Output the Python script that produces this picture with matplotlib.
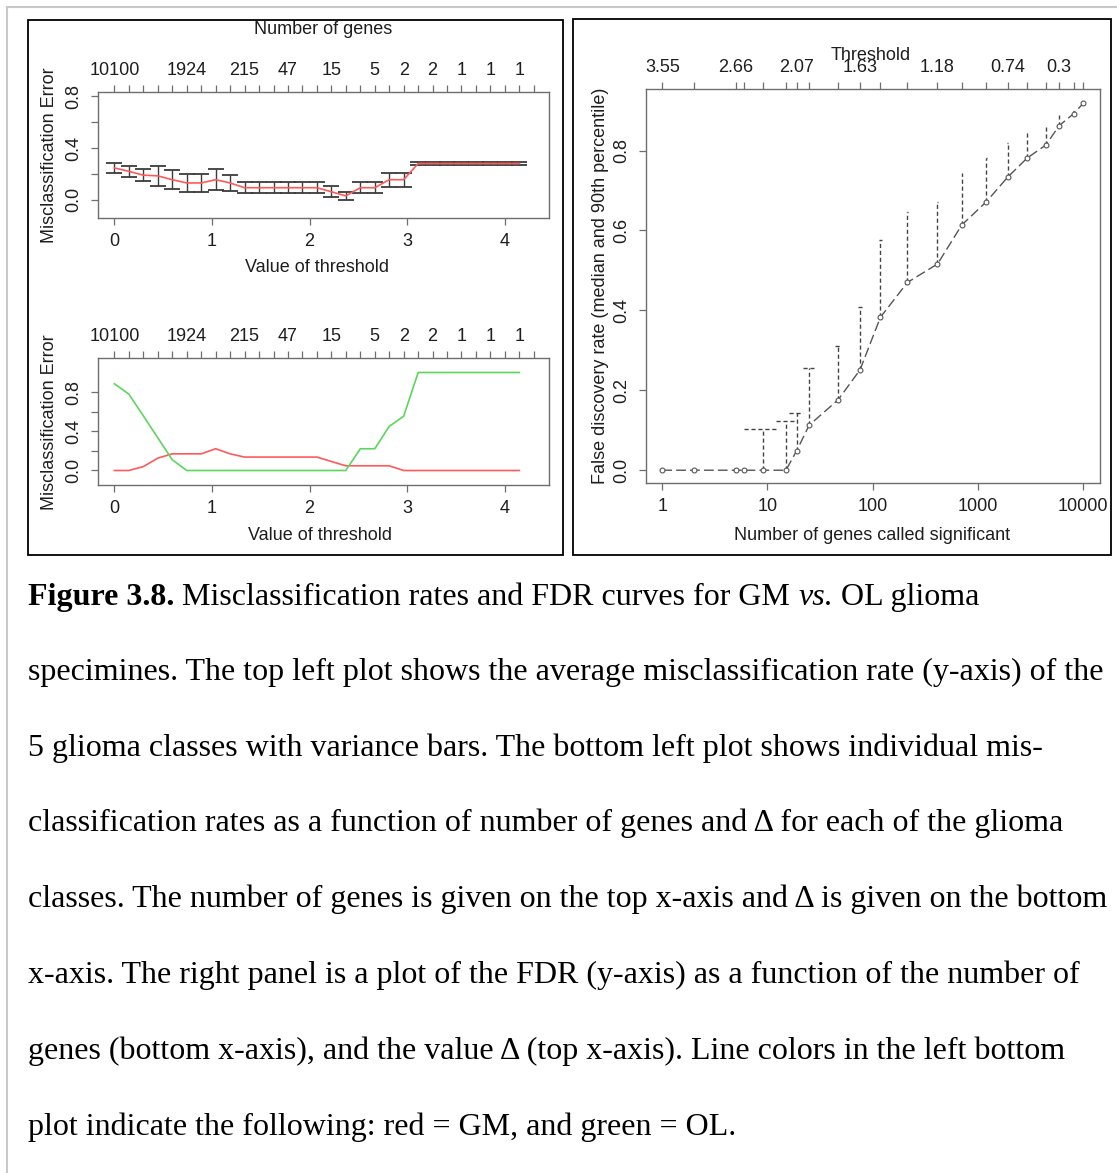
import numpy as np
import matplotlib
matplotlib.use("Agg")
import matplotlib.pyplot as plt
from matplotlib.patches import Rectangle
from matplotlib.lines import Line2D
from matplotlib.text import Annotation
from matplotlib.ticker import NullLocator

# ---- data ----
# pamr thresholds (one per top tick)
thresholds = [0.000, 0.148, 0.297, 0.445, 0.593, 0.741, 0.890, 1.038, 1.186, 1.334,
              1.483, 1.631, 1.779, 1.928, 2.076, 2.224, 2.372, 2.521, 2.669, 2.817,
              2.965, 3.114, 3.262, 3.410, 3.558, 3.707, 3.855, 4.003, 4.151, 4.300]
n_genes = [10100, 8165, 5950, 4467, 2953, 1924, 1212, 708, 415, 215,
           119, 76, 47, 25, 19, 15, 9, 6, 5, 2,
           2, 2, 2, 1, 1, 1, 1, 1, 1, 1]
gene_label_idx = [0, 5, 9, 12, 15, 18, 20, 22, 24, 26, 28]

# top left: mean misclassification error and error bar half-width
err_mean = [0.246, 0.220, 0.190, 0.185, 0.155, 0.130, 0.130, 0.155, 0.130, 0.093,
            0.093, 0.093, 0.093, 0.093, 0.093, 0.062, 0.030, 0.093, 0.093, 0.155,
            0.155, 0.280, 0.280, 0.280, 0.280, 0.280, 0.280, 0.280, 0.280]
err_se = [0.039, 0.041, 0.044, 0.078, 0.072, 0.070, 0.070, 0.080, 0.064, 0.044,
          0.044, 0.044, 0.044, 0.044, 0.044, 0.041, 0.029, 0.044, 0.044, 0.055,
          0.055, 0.015, 0.015, 0.015, 0.015, 0.015, 0.015, 0.015, 0.015]

# bottom left: per-class error
err_gm = [0.000, 0.000, 0.040, 0.126, 0.170, 0.170, 0.170, 0.222, 0.170, 0.137,
          0.137, 0.137, 0.137, 0.137, 0.137, 0.092, 0.048, 0.048, 0.048, 0.048,
          0.000, 0.000, 0.000, 0.000, 0.000, 0.000, 0.000, 0.000, 0.000]
err_ol = [0.885, 0.780, 0.557, 0.333, 0.110, 0.000, 0.000, 0.000, 0.000, 0.000,
          0.000, 0.000, 0.000, 0.000, 0.000, 0.000, 0.000, 0.222, 0.222, 0.450,
          0.554, 1.000, 1.000, 1.000, 1.000, 1.000, 1.000, 1.000, 1.000]

# right: FDR vs number of genes
fdr_genes = [1, 2, 5, 6, 9, 15, 19, 25, 47, 76, 119, 215, 415, 708, 1212, 1924,
             2953, 4467, 5950, 8165, 10100]
fdr_median = [0.0, 0.0, 0.0, 0.0, 0.0, 0.0, 0.049, 0.113, 0.176, 0.251, 0.383, 0.470,
              0.516, 0.614, 0.672, 0.733, 0.781, 0.814, 0.862, 0.892, 0.918]
fdr_upper = [0.0, 0.0, 0.0, 0.0, 0.103, 0.124, 0.144, 0.257, 0.311, 0.408, 0.575, 0.645,
             0.672, 0.745, 0.782, 0.818, 0.845, 0.860, 0.890, 0.898, 0.918]
fdr_threshold = [3.55, 2.96, 2.66, 2.52, 2.37, 2.22, 2.07, 1.93, 1.78, 1.63, 1.48, 1.33,
                 1.18, 1.04, 0.89, 0.74, 0.59, 0.44, 0.3, 0.15, 0.0]
thr_label_idx = [0, 2, 6, 9, 12, 15, 18]

caption_head = [("Figure 3.8.", "normal", "bold"),
                (" Misclassification rates and FDR curves for GM ", "normal", "normal"),
                ("vs.", "italic", "normal"),
                (" OL glioma", "normal", "normal")]
caption = [
    "specimines. The top left plot shows the average misclassification rate (y-axis) of the",
    "5 glioma classes with variance bars. The bottom left plot shows individual mis-",
    "classification rates as a function of number of genes and \u0394 for each of the glioma",
    "classes. The number of genes is given on the top x-axis and \u0394 is given on the bottom",
    "x-axis. The right panel is a plot of the FDR (y-axis) as a function of the number of",
    "genes (bottom x-axis), and the value \u0394 (top x-axis). Line colors in the left bottom",
    "plot indicate the following: red = GM, and green = OL.",
]

W, H = 1117, 1173
AX_COL = "#6e6e6e"
TXT = "#1e1e1e"
RED = "#ff5a5a"
GREEN = "#5cd65c"
plt.rcParams["font.family"] = ["Liberation Sans", "DejaVu Sans"]

fig = plt.figure(figsize=(W / 100, H / 100), dpi=100)


def box(x0, y0, x1, y1):
    # pixel box (top-left origin) -> figure fraction rect
    return [x0 / W, 1 - y1 / H, (x1 - x0) / W, (y1 - y0) / H]


def ftext(x, y, s, **kw):
    kw.setdefault("ha", "center")
    kw.setdefault("va", "center")
    kw.setdefault("fontsize", 13)
    kw.setdefault("color", TXT)
    return fig.text(x / W, 1 - y / H, s, **kw)


def r_style(ax):
    for s in ax.spines.values():
        s.set_color(AX_COL)
        s.set_linewidth(1.0)
    ax.tick_params(direction="out", length=5, width=0.9, color=AX_COL,
                   labelsize=13, labelcolor=TXT, pad=6)


def gene_axis(ax):
    top = ax.secondary_xaxis("top")
    labels = [str(n_genes[i]) if i in gene_label_idx else "" for i in range(len(thresholds))]
    top.set_xticks(thresholds, labels)
    top.spines["top"].set_visible(False)
    top.tick_params(direction="out", length=5, width=0.9, color=AX_COL,
                    labelsize=13, labelcolor=TXT, pad=4)
    return top


def left_y(ax):
    ax.set_yticks([0.0, 0.2, 0.4, 0.6, 0.8], ["0.0", "", "0.4", "", "0.8"],
                  rotation=90, va="center")


# ---- top left: mean error with bars ----
ax1 = fig.add_axes(box(98, 92, 549, 218))
r_style(ax1)
ax1.errorbar(thresholds[:len(err_mean)], err_mean, yerr=err_se, fmt="none",
             ecolor="#3c3c3c", elinewidth=1.0, capsize=6, capthick=1.3)
ax1.plot(thresholds[:len(err_mean)], err_mean, color=RED, lw=1.2)
ax1.set_xlim(-0.168, 4.455)
ax1.set_ylim(-0.141, 0.833)
ax1.set_xticks([0, 1, 2, 3, 4])
left_y(ax1)
gene_axis(ax1)

# ---- bottom left: per-class errors ----
ax2 = fig.add_axes(box(98, 358, 549, 485))
r_style(ax2)
ax2.plot(thresholds[:len(err_gm)], err_gm, color=RED, lw=1.2)
ax2.plot(thresholds[:len(err_ol)], err_ol, color=GREEN, lw=1.2)
ax2.set_xlim(-0.168, 4.455)
ax2.set_ylim(-0.148, 1.148)
ax2.set_xticks([0, 1, 2, 3, 4])
left_y(ax2)
gene_axis(ax2)

ftext(323, 30, "Number of genes")
ftext(317, 267, "Value of threshold")
ftext(320, 535, "Value of threshold")
ftext(50, 155, "Misclassification Error", rotation=90)
ftext(50, 422, "Misclassification Error", rotation=90)

# ---- right: FDR ----
ax3 = fig.add_axes(box(646, 89, 1100, 483))
r_style(ax3)
ax3.set_xscale("log")
g = np.array(fdr_genes, dtype=float)
med = np.array(fdr_median)
up = np.array(fdr_upper)
has_bar = up > med + 1e-9
ax3.vlines(g[has_bar], med[has_bar], up[has_bar], colors="#444444", lw=1.0,
           linestyles=(0, (3, 2)))
ax3.hlines(up[has_bar], g[has_bar] - 3, g[has_bar] + 3, colors="#444444", lw=1.0,
           linestyles=(0, (3, 2)))
ax3.plot(g, med, color="#555555", lw=1.0, ls=(0, (7, 3)), marker="o", ms=3.5,
         mfc="white", mec="#555555", mew=0.8)
ax3.set_xlim(10 ** -0.155, 10 ** 4.164)
ax3.set_ylim(-0.032, 0.954)
ax3.set_xticks([1, 10, 100, 1000, 10000], ["1", "10", "100", "1000", "10000"])
ax3.xaxis.set_minor_locator(NullLocator())
ax3.set_yticks([0.0, 0.2, 0.4, 0.6, 0.8], ["0.0", "0.2", "0.4", "0.6", "0.8"],
               rotation=90, va="center")

top3 = ax3.secondary_xaxis("top")
top3.set_xticks(fdr_genes, ["%g" % fdr_threshold[i] if i in thr_label_idx else ""
                            for i in range(len(fdr_genes))])
top3.xaxis.set_minor_locator(NullLocator())
top3.spines["top"].set_visible(False)
top3.tick_params(direction="out", length=5, width=0.9, color=AX_COL,
                 labelsize=13, labelcolor=TXT, pad=4)

ftext(871, 55, "Threshold")
ftext(872, 535, "Number of genes called significant")
ftext(600, 286, "False discovery rate (median and 90th percentile)", rotation=90)

# ---- frames and page lines ----
for (x0, y0, x1, y1) in [(28, 20, 563, 555), (573, 19, 1111, 555)]:
    fig.patches.append(Rectangle((x0 / W, 1 - y1 / H), (x1 - x0) / W, (y1 - y0) / H,
                                 transform=fig.transFigure, fill=False,
                                 edgecolor="black", lw=1.3))
fig.lines.append(Line2D([7 / W, 1], [1 - 7 / H, 1 - 7 / H], transform=fig.transFigure,
                        color="#c8c8c8", lw=1.5))
fig.lines.append(Line2D([7 / W, 7 / W], [1 - 7 / H, 0], transform=fig.transFigure,
                        color="#c8c8c8", lw=1.5))

# ---- caption ----
serif = ["Liberation Serif", "DejaVu Serif"]
cap_size = 23
baselines = [605, 680, 756, 831, 907, 983, 1059, 1135]

s, style, weight = caption_head[0]
prev = fig.text(28 / W, 1 - baselines[0] / H, s, family=serif, fontsize=cap_size,
                style=style, fontweight=weight, va="baseline", color="black")
for s, style, weight in caption_head[1:]:
    # chain the differently styled pieces one after another
    prev = fig.add_artist(Annotation(s, xy=(1, 0), xycoords=prev, va="bottom", ha="left",
                                     family=serif, fontsize=cap_size, style=style,
                                     fontweight=weight, color="black"))

for line, yb in zip(caption, baselines[1:]):
    fig.text(28 / W, 1 - yb / H, line, family=serif, fontsize=cap_size, va="baseline",
             color="black")

fig.savefig("out.png", dpi=100)
